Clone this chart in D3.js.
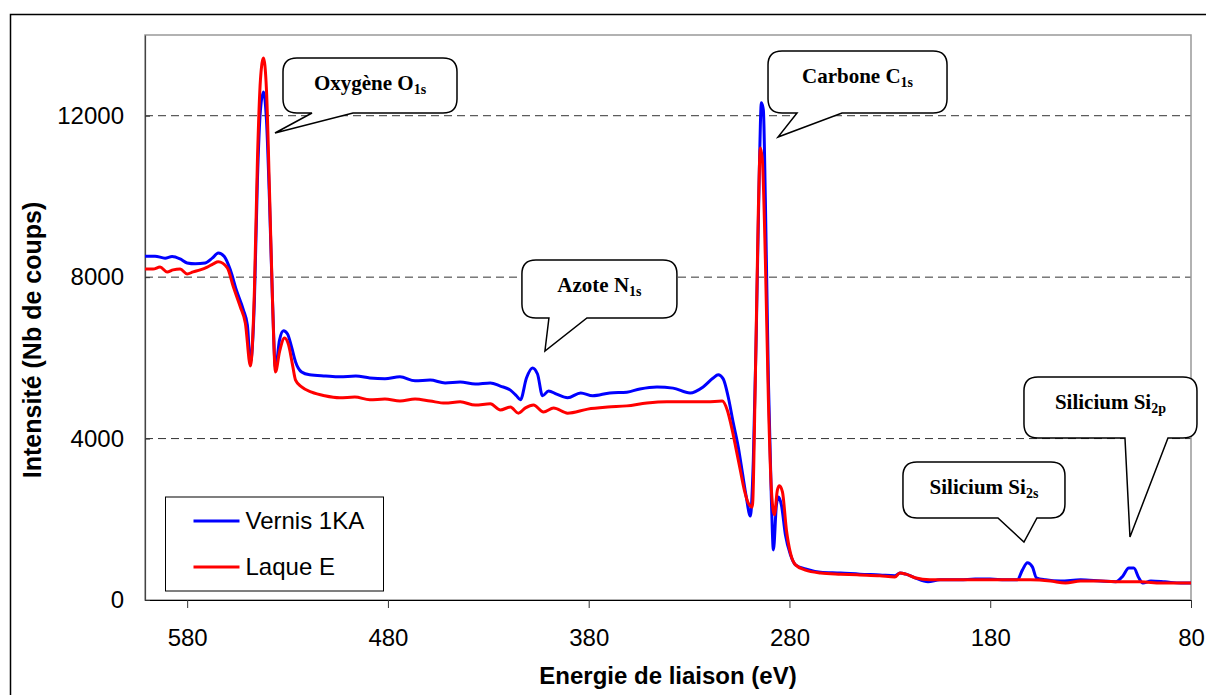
<!DOCTYPE html>
<html>
<head>
<meta charset="utf-8">
<script src="https://cdn.jsdelivr.net/npm/d3@7"></script>
<style>
  body { margin: 0; background: #fff; }
  svg { display: block; }
  .tick text { font-family: "Liberation Sans", Arial, sans-serif; font-size: 24px; fill: #000; }
  .axis-title { font-family: "Liberation Sans", Arial, sans-serif; font-size: 24px; font-weight: bold; }
  .callout text { font-family: "Liberation Serif", "Times New Roman", serif; font-weight: bold; font-size: 21px; }
  .legend text { font-family: "Liberation Sans", Arial, sans-serif; font-size: 24px; }
</style>
</head>
<body>
<div id="chart"></div>
<script>
// XPS survey spectra, binding energy (eV) vs counts
const vernisEnergy = [601, 596, 591, 587.5, 583.5, 580, 576, 571, 567.5, 564.5, 561.5, 558.5, 555.5, 552, 550, 548.5,
  546.5, 545, 543.5, 542, 540.5, 539, 537.5, 536, 534, 532, 530, 528, 526, 523, 519, 511, 504, 496, 489, 481.5, 474,
  466.5, 459, 451.5, 444, 436.5, 429, 424, 419, 416, 414, 411, 408, 405.5, 403, 400, 396, 390.5, 384, 378, 369.5, 361,
  354.5, 346, 338, 329.5, 323, 318, 315.5, 313, 310.5, 308, 305.5, 303.5, 301.5, 299.5, 298, 296.5, 295, 294, 293,
  292, 290.5, 289, 288, 286.5, 285.5, 284, 282, 279.5, 277, 272, 264.5, 254.5, 245, 235, 227.5, 225, 222, 217.5, 211,
  205, 195, 187.5, 180, 172.5, 166.5, 164, 161.5, 159, 157, 152.5, 145, 135, 125, 117.5, 114, 111, 108.5, 106, 104,
  100, 93, 85, 80];
const vernisCounts = [8520, 8520, 8470, 8510, 8450, 8350, 8330, 8350, 8470, 8600, 8510, 8180, 7680, 7190, 6810, 5900,
  7430, 10410, 12140, 12590, 11890, 9910, 7430, 5750, 6440, 6670, 6590, 6270, 5900, 5650, 5580, 5550, 5530, 5550, 5500,
  5480, 5530, 5430, 5450, 5380, 5400, 5350, 5380, 5300, 5200, 5060, 4960, 5500, 5750, 5600, 5060, 5180, 5100, 5010,
  5130, 5060, 5130, 5150, 5230, 5280, 5250, 5130, 5280, 5500, 5580, 5480, 5030, 4390, 3790, 3170, 2550, 2080, 3470,
  6690, 10660, 12320, 12140, 9910, 5450, 2480, 1240, 2350, 2550, 2350, 1610, 1120, 870, 770, 690, 670, 640, 620, 600,
  670, 640, 550, 450, 500, 500, 520, 520, 500, 500, 740, 920, 820, 550, 500, 470, 500, 470, 450, 590, 790, 790, 550,
  420, 470, 450, 420, 420];

const laqueEnergy = [601, 597, 593.5, 590, 587, 583.5, 580, 577, 573.5, 570, 567, 564.5, 560, 557, 553.5, 551, 548.5,
  546.5, 545, 543.5, 542, 540.5, 539, 537.5, 536, 534, 531.5, 529.5, 527.5, 526, 523, 518, 511.5, 504, 496.5, 489,
  481.5, 474, 466.5, 459, 451.5, 444, 436.5, 429, 424, 419, 415, 411.5, 407.5, 402.5, 397.5, 390.5, 380.5, 370.5, 361,
  351, 341, 331, 321, 313.5, 311, 308.5, 306.5, 304.5, 302.5, 300.5, 298.5, 297, 295.5, 294.5, 293.5, 292, 290.5, 289,
  287.5, 286, 285, 283.5, 281.5, 279.5, 277, 272, 264.5, 254.5, 245, 235, 227.5, 225, 222, 217.5, 210, 200, 190, 180,
  170, 160, 150, 142.5, 135, 125, 115, 105, 95, 80];
const laqueCounts = [8200, 8200, 8250, 8130, 8180, 8200, 8080, 8130, 8180, 8250, 8330, 8380, 8230, 7760, 7260, 6860,
  5800, 7680, 10900, 12890, 13430, 12640, 10160, 7430, 5650, 6150, 6490, 6320, 5820, 5450, 5280, 5150, 5060, 5010,
  5030, 4960, 4980, 4930, 4980, 4930, 4880, 4910, 4830, 4860, 4710, 4780, 4630, 4760, 4830, 4660, 4760, 4630, 4730,
  4780, 4810, 4880, 4910, 4910, 4910, 4930, 4710, 4210, 3720, 3220, 2730, 2400, 2300, 5450, 9660, 11200, 10900, 8430,
  4960, 2730, 2110, 2730, 2830, 2680, 1730, 1160, 870, 740, 670, 640, 620, 600, 570, 670, 640, 550, 500, 500, 500, 500,
  500, 500, 470, 420, 470, 470, 450, 450, 420, 420];

const xTicks = [580, 480, 380, 280, 180, 80];
const yTicks = [0, 4000, 8000, 12000];
const seriesNames = ["Vernis 1KA", "Laque E"];
const seriesColors = ["#0000ff", "#ff0000"];

// peak labels: tip anchored in data units
const peakLabels = ["Oxygène O", "Carbone C", "Azote N", "Silicium Si", "Silicium Si"];
const peakSubs = ["1s", "1s", "1s", "2s", "2p"];
const peakTipEnergy = [536.25, 285.7, 401.8, 163.2, 110.4];
const peakTipCounts = [11572, 11473, 6170, 1437, 1561];

// callout box geometry relative to the tip, in pixels: [left, top, right, bottom, wedge0, wedge1]
const calloutBoxes = [
  [8, -75, 182, -20, 37, 78],
  [-10, -86, 169, -24, 19, 64],
  [-23, -91, 132, -33, 4, 42],
  [-121, -80, 41, -24, -26, 13],
  [-106, -160, 67, -99, -5, 38]
];

const W = 1206, H = 695;
const margin = {top: 35, right: 15, bottom: 95, left: 145};
const width = W - margin.left - margin.right,
      height = H - margin.top - margin.bottom;

const svg = d3.select("#chart").append("svg")
  .attr("width", W)
  .attr("height", H);

svg.append("rect").attr("width", W).attr("height", H).attr("fill", "#fff");

// outer frame
svg.append("rect")
  .attr("x", 10.5).attr("y", 14.5)
  .attr("width", 1220).attr("height", 720)
  .attr("fill", "none").attr("stroke", "#000").attr("stroke-width", 1.5);

const g = svg.append("g").attr("transform", `translate(${margin.left},${margin.top})`);

const x = d3.scaleLinear().domain([601, 80]).range([0, width]);
const y = d3.scaleLinear().domain([0, 14000]).range([height, 0]);

// gridlines
g.selectAll(".grid")
  .data(yTicks.filter(d => d > 0))
  .enter().append("line")
  .attr("x1", 0).attr("x2", width)
  .attr("y1", d => y(d)).attr("y2", d => y(d))
  .attr("stroke", "#333").attr("stroke-width", 1)
  .attr("stroke-dasharray", "8,5");

// plot frame
g.append("rect")
  .attr("width", width).attr("height", height)
  .attr("fill", "none").attr("stroke", "#999").attr("stroke-width", 1.5);

// axes
const xAxis = g.append("g")
  .attr("transform", `translate(0,${height})`)
  .call(d3.axisBottom(x).tickValues(xTicks).tickFormat(d3.format("d"))
    .tickSize(8).tickPadding(21).tickSizeOuter(0));
xAxis.select(".domain").attr("stroke", "#000").attr("stroke-width", 1.2);
xAxis.selectAll(".tick line").attr("stroke", "#333");

const yAxis = g.append("g")
  .call(d3.axisLeft(y).tickValues(yTicks).tickFormat(d3.format("d"))
    .tickSizeInner(-5).tickSizeOuter(0).tickPadding(21));
yAxis.select(".domain").attr("stroke", "#444").attr("stroke-width", 1.2);
yAxis.selectAll(".tick line").attr("stroke", "#333");

svg.append("text")
  .attr("class", "axis-title")
  .attr("x", margin.left + width / 2)
  .attr("y", 684)
  .attr("text-anchor", "middle")
  .text("Energie de liaison (eV)");

svg.append("text")
  .attr("class", "axis-title")
  .attr("transform", "translate(41,340) rotate(-90)")
  .attr("text-anchor", "middle")
  .style("font-size", "25px")
  .text("Intensité (Nb de coups)");

// series
const line = d3.line()
  .x(d => x(d[0]))
  .y(d => y(d[1]))
  .curve(d3.curveMonotoneX);

const series = [
  d3.zip(vernisEnergy, vernisCounts),
  d3.zip(laqueEnergy, laqueCounts)
];

g.selectAll(".series")
  .data(series)
  .enter().append("path")
  .attr("d", line)
  .attr("fill", "none")
  .attr("stroke", (d, i) => seriesColors[i])
  .attr("stroke-width", 3)
  .attr("stroke-linejoin", "round");

// callouts
function calloutPath(tx, ty, b) {
  const x0 = tx + b[0], y0 = ty + b[1], x1 = tx + b[2], y1 = ty + b[3];
  const w0 = tx + b[4], w1 = tx + b[5], r = 14;
  return `M${x0 + r},${y0}H${x1 - r}Q${x1},${y0} ${x1},${y0 + r}V${y1 - r}Q${x1},${y1} ${x1 - r},${y1}` +
    `H${w1}L${tx},${ty}L${w0},${y1}H${x0 + r}Q${x0},${y1} ${x0},${y1 - r}V${y0 + r}Q${x0},${y0} ${x0 + r},${y0}Z`;
}

const callouts = g.selectAll(".callout")
  .data(peakLabels.map((label, i) => ({
    label, sub: peakSubs[i],
    tx: x(peakTipEnergy[i]), ty: y(peakTipCounts[i]), box: calloutBoxes[i]
  })))
  .enter().append("g")
  .attr("class", "callout");

callouts.append("path")
  .attr("d", d => calloutPath(d.tx, d.ty, d.box))
  .attr("fill", "#fff")
  .attr("stroke", "#000")
  .attr("stroke-width", 1.5);

const ct = callouts.append("text")
  .attr("x", d => d.tx + (d.box[0] + d.box[2]) / 2)
  .attr("y", d => d.ty + d.box[1] + 32)
  .attr("text-anchor", "middle");
ct.append("tspan").text(d => d.label);
ct.append("tspan").attr("font-size", "14px").attr("dy", 4).text(d => d.sub);

// legend
const legend = g.append("g")
  .attr("class", "legend")
  .attr("transform", "translate(20.5,462)");

legend.append("rect")
  .attr("width", 218).attr("height", 94)
  .attr("fill", "#fff").attr("stroke", "#000").attr("stroke-width", 1);

const items = legend.selectAll(".item")
  .data(seriesNames)
  .enter().append("g")
  .attr("transform", (d, i) => `translate(0,${24 + i * 46})`);

items.append("line")
  .attr("x1", 28).attr("x2", 74)
  .attr("stroke", (d, i) => seriesColors[i])
  .attr("stroke-width", 3);

items.append("text")
  .attr("x", 80)
  .attr("dy", "0.35em")
  .text(d => d);
</script>
</body>
</html>
